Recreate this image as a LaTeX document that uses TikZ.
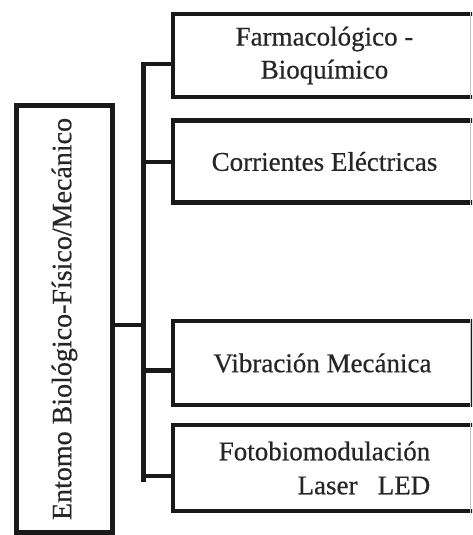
\documentclass[tikz,border=0pt]{standalone}
\usepackage{fontspec}
\setmainfont{Liberation Serif}[FakeBold=0.6]
\begin{document}
\begin{tikzpicture}[x=1pt,y=-1pt,
  line width=4.5pt,
  box/.style={draw=black!90, rectangle, minimum width=303pt, inner sep=0pt,
    font=\fontsize{27}{33}\selectfont, text=black!85},
  rootbox/.style={draw=black!90, rectangle, minimum width=96pt, minimum height=427pt,
    inner sep=0pt, font=\fontsize{28}{32}\selectfont, text=black!85},
  conn/.style={draw=black!90, line width=4.5pt},
  rim/.style={draw=gray!45, line width=0.8pt}]
\useasboundingbox (0,0) rectangle (472,535);
\clip (0,0) rectangle (472,535);
% root box
\node[rootbox] (root) at (64.5,319) {\rotatebox{90}{Entomo Biológico-Físico/Mecánico}};
% branch boxes
\node[box, minimum height=83pt, align=center] (b1) at (324.5,55.5) {Farmacológico -\\Bioquímico};
\node[box, minimum height=82pt] (b2) at (324.5,161.5) {Corrientes Eléctricas};
\node[box, minimum height=84pt, minimum width=299pt] (b3) at (322.5,363) {Vibración Mecánica};
\node[box, minimum height=86pt, align=right, font=\fontsize{27}{34}\selectfont] (b4) at (324.5,468) {Fotobiomodulación\\Laser\hspace{0.75em}LED};
% faint right edges
\foreach \b in {b1,b2,b3,b4}{
  \draw[rim] (470.5,0 |- \b.north) -- (470.5,0 |- \b.south);
}
% trunk
\coordinate (ttop) at (143.5,61.8);
\coordinate (tbot) at (143.5,482);
\coordinate (j0) at (143.5,325);
\coordinate (j1) at (143.5,64);
\coordinate (j2) at (143.5,162);
\coordinate (j3) at (143.5,370.5);
\coordinate (j4) at (143.5,476);
\draw[conn] (ttop) -- (tbot);
\draw[conn] (j0 -| root.east) -- (j0);
\draw[conn] (j1) -- (j1 -| b1.west);
\draw[conn] (j2) -- (j2 -| b2.west);
\draw[conn] (j3) -- (j3 -| b3.west);
\draw[conn] (j4) -- (j4 -| b4.west);
\end{tikzpicture}
\end{document}
